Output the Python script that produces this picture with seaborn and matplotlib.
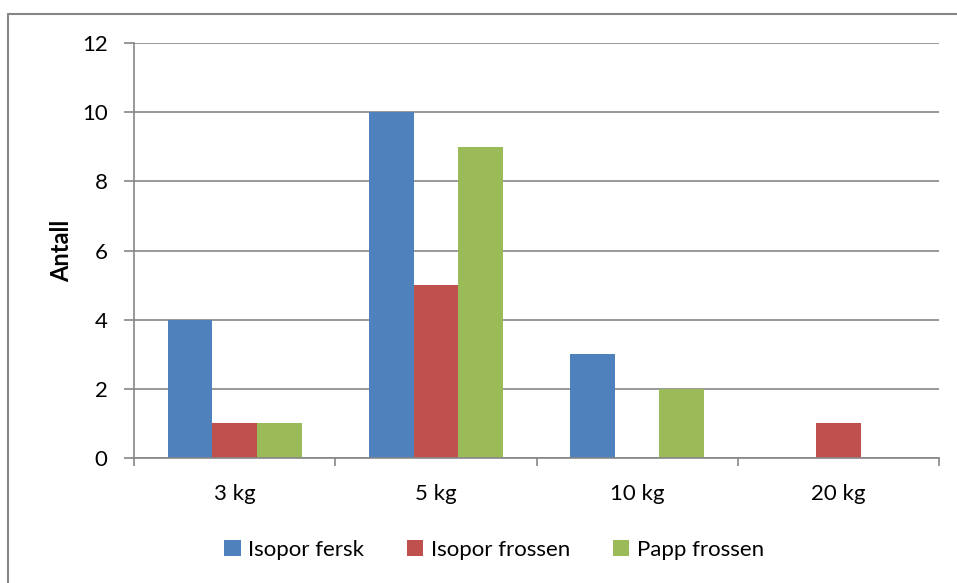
import matplotlib
matplotlib.use("Agg")
import matplotlib.pyplot as plt
import seaborn as sns
import pandas as pd
from matplotlib.lines import Line2D

categories = ["3 kg", "5 kg", "10 kg", "20 kg"]
series_names = ["Isopor fersk", "Isopor frossen", "Papp frossen"]
isopor_fersk = [4, 10, 3, 0]
isopor_frossen = [1, 5, 0, 1]
papp_frossen = [1, 9, 2, 0]
colors = ["#4F81BD", "#C0504D", "#9BBB59"]

rows = []
for name, vals in zip(series_names, [isopor_fersk, isopor_frossen, papp_frossen]):
    for c, v in zip(categories, vals):
        rows.append({"Kategori": c, "Serie": name, "Antall": v})
df = pd.DataFrame(rows)

sns.set_theme(style="white")
plt.rcParams["font.family"] = ["Lato", "DejaVu Sans"]
plt.rcParams["text.color"] = "black"
plt.rcParams["axes.labelcolor"] = "black"

fig = plt.figure(figsize=(9.57, 5.83), dpi=100)
ax = fig.add_axes([134/957, 1-458/583, (939-134)/957, (458-43)/583])

sns.barplot(data=df, x="Kategori", y="Antall", hue="Serie", order=categories,
            hue_order=series_names, palette=colors, width=2/3, gap=0,
            linewidth=0, saturation=1, ax=ax, legend=True)

gridc = "#868686"
fs = 16
ax.set_xlim(-0.5, 3.5)
ax.set_ylim(0, 12)
ax.set_yticks([0, 2, 4, 6, 8, 10, 12])
ax.yaxis.grid(True, color=gridc, linewidth=1.2)
ax.set_axisbelow(True)
for s in ["top", "right"]:
    ax.spines[s].set_visible(False)
for s in ["left", "bottom"]:
    ax.spines[s].set_color(gridc)
    ax.spines[s].set_linewidth(1.2)

ax.set_xticks(range(len(categories)))
ax.set_xticklabels(categories)
ax.set_xticks([-0.5, 0.5, 1.5, 2.5, 3.5], minor=True)
ax.tick_params(axis="x", which="major", length=0, pad=19, labelsize=fs, colors="black")
ax.tick_params(axis="x", which="minor", length=6, width=1.2, color=gridc, direction="out", bottom=True)
ax.tick_params(axis="y", which="major", length=7, width=1.2, color=gridc, direction="out", left=True,
               pad=12, labelsize=fs, labelcolor="black")

ax.set_xlabel("")
ax.set_ylabel("Antall", fontsize=17, fontweight="bold", labelpad=6, color="black")

leg = ax.legend(loc="center", bbox_to_anchor=(494/957, 1-550/583), bbox_transform=fig.transFigure,
                ncol=3, frameon=False, fontsize=fs, handlelength=0.75, handleheight=0.75,
                handletextpad=0.35, columnspacing=1.9)
for t in leg.get_texts():
    t.set_color("black")

fig.add_artist(Line2D([8/957, 8/957], [0, 1-14/583], color=gridc, linewidth=1.5, transform=fig.transFigure))
fig.add_artist(Line2D([8/957, 1], [1-14/583, 1-14/583], color=gridc, linewidth=1.5, transform=fig.transFigure))

fig.savefig("out.png", dpi=100)
